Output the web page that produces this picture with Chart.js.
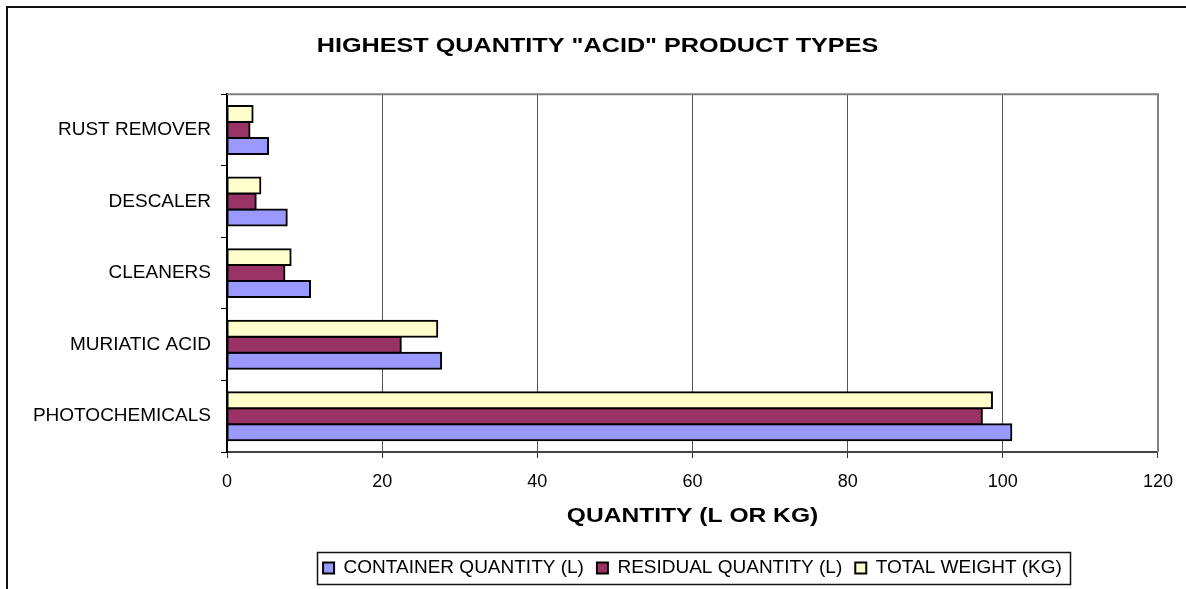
<!DOCTYPE html>
<html>
<head>
<meta charset="utf-8">
<script src="https://cdn.jsdelivr.net/npm/chart.js@4/dist/chart.umd.min.js"></script>
<style>
  html, body { margin: 0; padding: 0; background: #fff; }
  #wrap { width: 1186px; height: 589px; }
</style>
</head>
<body>
<div id="wrap"><canvas id="c" width="1186" height="589"></canvas></div>
<script>
// Product types, listed top to bottom
const categories = ['RUST REMOVER', 'DESCALER', 'CLEANERS', 'MURIATIC ACID', 'PHOTOCHEMICALS'];

// Quantities per product type
const containerQty = [5.3, 7.7, 10.7, 27.6, 101.1];
const residualQty  = [2.9, 3.7, 7.4, 22.4, 97.3];
const totalWeight  = [3.3, 4.3, 8.2, 27.1, 98.6];

// Quantity axis ticks
const xTicks = [0, 20, 40, 60, 80, 100, 120];

const FONT = "'Liberation Sans', Arial, sans-serif";
const PLOT_LEFT = 227;
const PLOT_RIGHT_PAD = 28;
const BOLD_STRETCH = 1.2;

// Draws a chart element's text horizontally widened about its own centre (wide bold headings)
function widened(obj, method, factor) {
  const flag = '__wide_' + method;
  if (!obj || obj[flag]) return;
  const orig = obj[method];
  obj[method] = function (...args) {
    const ctx = this.ctx;
    const cx = (this.left + this.right) / 2;
    ctx.save();
    ctx.translate(cx, 0);
    ctx.scale(factor, 1);
    ctx.translate(-cx, 0);
    try { return orig.apply(this, args); }
    finally { ctx.restore(); }
  };
  obj[flag] = true;
}

const framePlugin = {
  id: 'frame',
  beforeDraw(chart) {
    const ctx = chart.ctx;
    ctx.save();
    ctx.fillStyle = '#fff';
    ctx.fillRect(0, 0, chart.width, chart.height);
    // outer chart border (runs past the right and bottom edges)
    ctx.strokeStyle = '#111';
    ctx.lineWidth = 2;
    ctx.strokeRect(7, 7, chart.width + 20, chart.height + 20);
    ctx.restore();
  },
  afterLayout(chart) {
    const ca = chart.chartArea;
    // legend centred under the plot area
    const lg = chart.legend;
    if (lg) {
      lg.left = ca.left;
      lg.right = ca.right;
      lg.width = ca.right - ca.left;
      if (typeof lg.adjustHitBoxes === 'function') lg.adjustHitBoxes();
    }
    // title centred across the whole frame
    if (chart.titleBlock) {
      chart.titleBlock.left = 9;
      chart.titleBlock.right = 1186;
      chart.titleBlock.width = 1177;
      widened(chart.titleBlock, 'draw', BOLD_STRETCH);
    }
    widened(chart.scales.x, 'drawTitle', BOLD_STRETCH);
  },
  beforeDatasetsDraw(chart) {
    const ca = chart.chartArea;
    const ctx = chart.ctx;
    ctx.save();
    ctx.strokeStyle = '#808080';
    ctx.lineWidth = 2;
    ctx.beginPath();
    ctx.moveTo(ca.left, ca.top);
    ctx.lineTo(ca.right, ca.top);
    ctx.lineTo(ca.right, ca.bottom);
    ctx.stroke();
    ctx.restore();
  },
  afterDraw(chart) {
    const lg = chart.legend;
    if (!lg || !lg.legendHitBoxes || !lg.legendHitBoxes.length) return;
    const boxes = lg.legendHitBoxes;
    const left = Math.min(...boxes.map(b => b.left)) - 6;
    const right = Math.max(...boxes.map(b => b.left + b.width)) + 8;
    const top = lg.top + 6.5;
    const ctx = chart.ctx;
    ctx.save();
    ctx.strokeStyle = '#111';
    ctx.lineWidth = 1.5;
    ctx.strokeRect(Math.round(left) + 0.5, Math.round(top) + 0.5, Math.round(right - left), 32);
    ctx.restore();
  }
};

new Chart(document.getElementById('c'), {
  type: 'bar',
  data: {
    labels: categories,
    datasets: [
      { label: 'TOTAL WEIGHT (KG)', data: totalWeight, backgroundColor: '#FFFFCC' },
      { label: 'RESIDUAL QUANTITY (L)', data: residualQty, backgroundColor: '#993366' },
      { label: 'CONTAINER QUANTITY (L)', data: containerQty, backgroundColor: '#9999FF' }
    ]
  },
  options: {
    indexAxis: 'y',
    responsive: false,
    animation: false,
    devicePixelRatio: 1,
    layout: { padding: { left: 0, right: PLOT_RIGHT_PAD, top: 0, bottom: 1.5 } },
    datasets: {
      bar: {
        borderColor: '#000',
        borderWidth: 2,
        borderSkipped: false,
        inflateAmount: 1,
        categoryPercentage: 0.67,
        barPercentage: 1.0
      }
    },
    scales: {
      x: {
        type: 'linear',
        min: 0,
        max: 120,
        afterBuildTicks(scale) { scale.ticks = xTicks.map(v => ({ value: v })); },
        afterFit(scale) { scale.height = 93.5; },
        ticks: { color: '#000', font: { family: FONT, size: 18 }, padding: 13 },
        grid: { color: '#555', lineWidth: 1, tickLength: 6, tickColor: '#333' },
        border: { color: '#444', width: 2 },
        title: {
          display: true,
          text: 'QUANTITY (L OR KG)',
          color: '#000',
          font: { family: FONT, size: 20.5, weight: 'bold' },
          padding: { top: 0, bottom: 16.5 }
        }
      },
      y: {
        afterFit(scale) { scale.width = PLOT_LEFT; },
        ticks: { color: '#000', font: { family: FONT, size: 19 }, padding: 10 },
        grid: { drawOnChartArea: false, tickLength: 6, color: '#000', lineWidth: 1 },
        border: { color: '#000', width: 2 }
      }
    },
    plugins: {
      title: {
        display: true,
        text: 'HIGHEST QUANTITY "ACID" PRODUCT TYPES',
        color: '#000',
        font: { family: FONT, size: 21, weight: 'bold' },
        padding: { top: 33.5, bottom: 35.5 }
      },
      legend: {
        position: 'bottom',
        reverse: true,
        labels: {
          color: '#000',
          font: { family: FONT, size: 19 },
          boxWidth: 11,
          boxHeight: 11,
          padding: 13
        }
      },
      tooltip: { enabled: false }
    }
  },
  plugins: [framePlugin]
});
</script>
</body>
</html>
